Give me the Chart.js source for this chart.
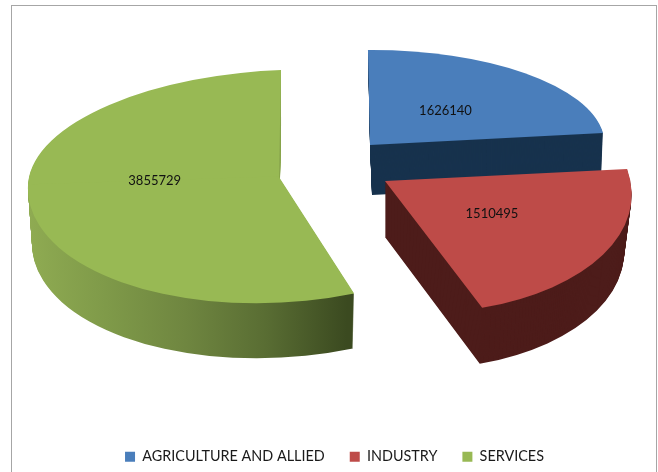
<!DOCTYPE html>
<html><head><meta charset="utf-8">
<style>html,body{margin:0;padding:0;background:#fff;overflow:hidden}canvas{display:block}</style>
<script src="https://cdn.jsdelivr.net/npm/chart.js@4"></script>
</head><body><canvas id="c" width="658" height="472"></canvas>
<script>
const categories = ['AGRICULTURE AND ALLIED', 'INDUSTRY', 'SERVICES'];
const values = [1626140, 1510495, 3855729];
const faceColors = ['#4a7ebb', '#be4b48', '#98b954'];
const wallColors = ['#17324d', '#4d1c1a', null];

// Projection of each exploded slice onto the page (a tilted 3D pie)
const views = [
  {apex:[370,145], depth:50, shift:0.04, taper:0.017, label:[-2,2],
   pieces:[{m:[234.6,0,-0.8,95]}]},
  {apex:[385,181], depth:56, shift:0, taper:0.03, label:[-2,-4],
   pieces:[{m:[246,18,3.7,132.9]}]},
  {apex:[279,177], depth:55, shift:0, taper:0.016, label:[0,-11],
   pieces:[{m:[251,-4.2,-8,107], clip:'upper', wall:'#8aa64f'},{m:[251,-7,-8,126], clip:'lower'}]}
];

function applyView(ctx, arc, view, piece, dx, dy, k) {
  const R = arc.outerRadius, m = piece.m;
  ctx.translate(view.apex[0] + dx, view.apex[1] + dy);
  ctx.transform(m[0]*k/R, m[2]/R, m[1]/R, m[3]/R, 0, 0);
  ctx.translate(-arc.x, -arc.y);
  if (piece.clip) {
    ctx.beginPath();
    if (piece.clip === 'lower') ctx.rect(arc.x-2*R, arc.y-1, 4*R, 2*R+1);
    else ctx.rect(arc.x-2*R, arc.y-2*R, 4*R, 2*R);
    ctx.clip();
  }
}

function drawPiece(ctx, arc, view, piece, fill, d) {
  ctx.save();
  const k = 1 - view.taper * d / view.depth;
  applyView(ctx, arc, view, piece, d*view.shift, d, k);
  const base = arc.options;
  const o = Object.create(base);
  o.backgroundColor = typeof fill === 'function' ? fill(ctx, arc) : fill;
  o.borderWidth = 0;
  arc.options = o;
  arc.draw(ctx);
  arc.options = base;
  ctx.restore();
}

function greenWall(ctx, arc) {
  const R = arc.outerRadius;
  const g = ctx.createLinearGradient(arc.x - R, 0, arc.x + 0.3*R, 0);
  g.addColorStop(0, '#8fab52');
  g.addColorStop(0.25, '#7f9a49');
  g.addColorStop(0.5, '#6f8640');
  g.addColorStop(0.75, '#596d33');
  g.addColorStop(1, '#3b4a20');
  return g;
}

const pie3d = {
  id: 'pie3d',
  afterLayout(chart) {
    chart.legend.top += 2; chart.legend.bottom += 2;
  },
  beforeDraw(chart) {
    const ctx = chart.ctx;
    ctx.save();
    ctx.strokeStyle = '#a6a6a6';
    ctx.lineWidth = 1;
    ctx.strokeRect(11.5, 5.5, 645, 520);
    ctx.restore();
  },
  beforeDatasetsDraw(chart) {
    const ctx = chart.ctx;
    const arcs = chart.getDatasetMeta(0).data;
    arcs.forEach((arc, i) => {
      const v = views[i];
      for (let d = v.depth; d >= 1; d--) {
        v.pieces.forEach(p => drawPiece(ctx, arc, v, p, p.wall || wallColors[i] || greenWall, d));
      }
      v.pieces.forEach(p => drawPiece(ctx, arc, v, p, faceColors[i], 0));
    });
    ctx.save();
    ctx.fillStyle = '#111';
    ctx.font = '13px Lato';
    ctx.textAlign = 'center';
    ctx.textBaseline = 'middle';
    arcs.forEach((arc, i) => {
      const v = views[i], R = arc.outerRadius;
      const c = arc.getCenterPoint();
      const u = (c.x - arc.x)/R, w = (c.y - arc.y)/R;
      const m = v.pieces[v.pieces.length-1].m;
      const x = v.apex[0] + m[0]*u + m[1]*w + v.label[0];
      const y = v.apex[1] + m[2]*u + m[3]*w + v.label[1];
      ctx.fillText(String(values[i]), x, y);
    });
    ctx.restore();
    return false;
  }
};

new Chart(document.getElementById('c'), {
  type: 'pie',
  data: {labels: categories, datasets: [{data: values, backgroundColor: faceColors, borderWidth: 0}]},
  options: {
    responsive: false, animation: false, events: [],
    rotation: -0.5,
    layout: {padding: {left: 11}},
    plugins: {
      tooltip: {enabled: false},
      legend: {position: 'bottom', labels: {boxWidth: 10, boxHeight: 10, padding: 25,
        color: '#1a1a1a', font: {family: 'Lato', size: 14.4}}}
    }
  },
  plugins: [pie3d]
});
</script></body></html>
